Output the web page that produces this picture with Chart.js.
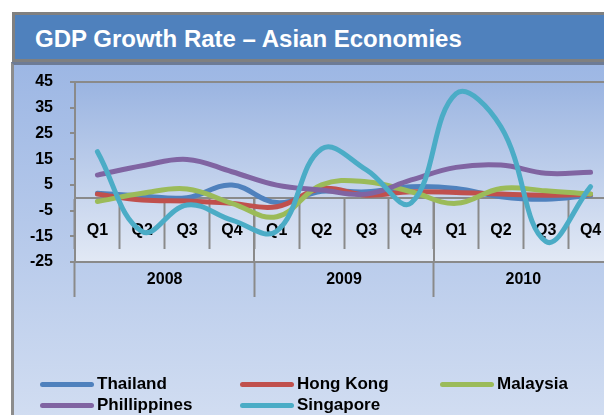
<!DOCTYPE html>
<html><head><meta charset="utf-8">
<script src="https://cdn.jsdelivr.net/npm/chart.js@4/dist/chart.umd.min.js"></script>
<style>
html,body{margin:0;padding:0;}
body{width:604px;height:415px;overflow:hidden;position:relative;background:#fff;font-family:"Liberation Sans",Arial,sans-serif;}
#title{position:absolute;left:12px;top:12px;width:640px;height:44px;border:3px solid #808080;background:#4F81BD;color:#fff;font-weight:bold;font-size:24px;line-height:47px;padding-left:20px;white-space:nowrap;overflow:hidden;}
#panel{position:absolute;left:11px;top:62px;width:640px;height:400px;border-left:3px solid #8c8c8c;border-top:3px solid #6d7b95;background:linear-gradient(to bottom,#9db7e4 0%,#d8e2f3 100%);}
#wrap{position:absolute;left:0;top:0;width:630px;height:415px;}
.item{position:absolute;height:20px;display:flex;align-items:center;font-weight:bold;font-size:17px;color:#000;white-space:nowrap;}
.sw{display:inline-block;width:54px;height:5px;border-radius:3px;margin-right:3px;}
</style></head>
<body>
<div id="title">GDP Growth Rate – Asian Economies</div>
<div id="panel"></div>
<div id="wrap"><canvas id="c" width="630" height="415"></canvas></div>
<div id="legend"></div>
<script>
// ---- data ----
const quarters = ['Q1','Q2','Q3','Q4','Q1','Q2','Q3','Q4','Q1','Q2','Q3','Q4'];
const years = ['2008','2009','2010'];
const yTicks = [-25,-15,-5,5,15,25,35,45];
const seriesNames = ['Thailand','Hong Kong','Malaysia','Phillippines','Singapore'];
const thailand    = [1.7, 0.7, 0.0, 4.9, -1.9, 2.5, 2.3, 4.3, 3.6, 0.4, -0.6, 1.0];
const hongKong    = [1.4, -0.9, -1.3, -2.2, -3.5, 3.6, 1.0, 2.3, 2.0, 1.4, 1.0, 1.3];
const malaysia    = [-1.5, 1.7, 3.4, -2.2, -7.4, 5.0, 6.2, 2.3, -2.2, 3.6, 2.7, 1.4];
const philippines = [8.8, 12.4, 14.9, 10.1, 4.9, 3.0, 1.4, 6.9, 11.8, 12.7, 9.5, 9.9];
const singapore   = [17.9, -13.2, -2.8, -8.7, -13.0, 19.0, 10.8, -2.0, 40.5, 27.6, -17.0, 4.3];
const seriesValues = [thailand, hongKong, malaysia, philippines, singapore];

// ---- styles ----
const colors = ['#4F81BD','#C0504D','#9BBB59','#8064A2','#4BACC6'];
const GRID = '#8a8a8a';
const FONT = {family:'"Liberation Sans", Arial, sans-serif', weight:'bold', size:16};

const decor = {
  id:'decor',
  beforeDraw(chart){
    const {ctx, chartArea:a} = chart;
    const g = ctx.createLinearGradient(0,a.top,0,a.bottom);
    g.addColorStop(0,'#9ab4e1'); g.addColorStop(1,'#e2e9f5');
    ctx.save(); ctx.fillStyle=g; ctx.fillRect(a.left,a.top,a.right-a.left,a.bottom-a.top); ctx.restore();
  },
  beforeDatasetsDraw(chart){
    const {ctx, chartArea:a, scales} = chart;
    const y0 = scales.y.getPixelForValue(0);
    const x2 = scales.x2;
    ctx.save(); ctx.strokeStyle=GRID; ctx.lineWidth=2;
    for(let i=1;i<years.length;i++){
      const x = Math.round((x2.getPixelForValue(i-1)+x2.getPixelForValue(i))/2);
      ctx.beginPath(); ctx.moveTo(x,y0); ctx.lineTo(x,a.bottom); ctx.stroke();
    }
    ctx.restore();
  }
};

const chart = new Chart(document.getElementById('c'), {
  type:'line',
  data:{
    labels:quarters,
    datasets: seriesNames.map((n,i)=>({
      label:n, data:seriesValues[i], borderColor:colors[i], backgroundColor:colors[i],
      borderWidth:5, pointRadius:0, tension:0.4, fill:false,
      borderCapStyle:'round', borderJoinStyle:'round', order:seriesNames.length-i
    }))
  },
  options:{
    responsive:false, animation:false,
    layout:{padding:{left:0,right:17,top:82,bottom:113}},
    plugins:{legend:{display:false}, tooltip:{enabled:false}, title:{display:false}},
    scales:{
      x:{
        type:'category', position:{y:0}, offset:true,
        grid:{offset:true, drawOnChartArea:false, drawTicks:true, tickLength:50, tickColor:GRID, tickWidth:2, color:GRID},
        border:{display:true, color:GRID, width:2},
        ticks:{font:FONT, color:'#000', padding:-27, maxRotation:0, autoSkip:false}
      },
      x2:{
        type:'category', labels:years, position:'bottom', offset:true,
        grid:{offset:true, drawOnChartArea:false, drawTicks:true, tickLength:35, tickColor:GRID, tickWidth:2, color:GRID},
        border:{display:false},
        ticks:{font:FONT, color:'#000', padding:-27, maxRotation:0, autoSkip:false},
        afterFit(s){ s.height = 40; }
      },
      y:{
        min:-25, max:45,
        afterBuildTicks(s){ s.ticks = yTicks.map(v=>({value:v})); },
        grid:{drawOnChartArea:true, color:c=>(c.tick && (c.tick.value===45||c.tick.value===-25))?GRID:'rgba(0,0,0,0)', lineWidth:2,
              drawTicks:true, tickLength:5, tickColor:GRID, tickWidth:2},
        border:{display:true, color:GRID, width:2},
        ticks:{font:FONT, color:'#000', padding:17},
        afterFit(s){ s.width = 75; }
      }
    }
  },
  plugins:[decor]
});

// ---- HTML legend built from the chart's datasets ----
const legendPos = [[40,374],[240,374],[440,374],[40,395],[240,395]];
const lg = document.getElementById('legend');
chart.data.datasets.forEach((d,i)=>{
  const it = document.createElement('div');
  it.className='item';
  it.style.left = legendPos[i][0]+'px'; it.style.top = legendPos[i][1]+'px';
  const sw = document.createElement('span'); sw.className='sw'; sw.style.background=d.borderColor;
  it.appendChild(sw); it.appendChild(document.createTextNode(d.label));
  lg.appendChild(it);
});
</script>
</body></html>
